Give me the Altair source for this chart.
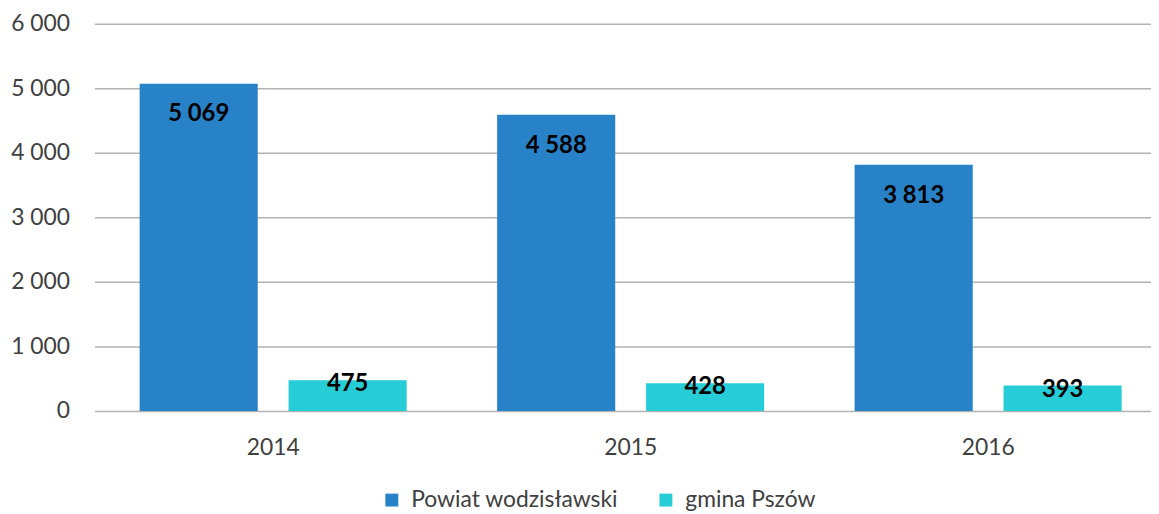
import altair as alt
import pandas as pd

years = ["2014", "2015", "2016"]
series = ["Powiat wodzisławski", "gmina Pszów"]
powiat = [5069, 4588, 3813]
gmina = [475, 428, 393]
colors = ["#2882C8", "#26CDD6"]

rows = []
for i, y in enumerate(years):
    rows.append({"year": y, "series": series[0], "value": powiat[i]})
    rows.append({"year": y, "series": series[1], "value": gmina[i]})
df = pd.DataFrame(rows)

FONT = "Lato"
fmt = "replace(format(datum.value, ',d'), ',', ' ')"

x = alt.X("year:N", sort=years, title=None,
          scale=alt.Scale(paddingInner=0.253, paddingOuter=0.1265),
          axis=alt.Axis(labelAngle=0, ticks=False, domain=False, labelFont=FONT,
                        labelFontSize=23, labelColor="#404040", labelPadding=26))
xo = alt.XOffset("series:N", sort=series,
                 scale=alt.Scale(paddingInner=0.207, paddingOuter=0))
y = alt.Y("value:Q", title=None,
          scale=alt.Scale(domain=[0, 6000], nice=False),
          axis=alt.Axis(values=[0, 1000, 2000, 3000, 4000, 5000, 6000], ticks=False,
                        domain=False, grid=True, gridColor="#B3B3B3", gridWidth=1.5,
                        labelFont=FONT, labelFontSize=23, labelColor="#404040",
                        labelPadding=25, labelExpr=fmt))

base = alt.Chart(df)

bars = base.mark_bar().encode(
    x=x, xOffset=xo, y=y,
    color=alt.Color("series:N", sort=series,
                    scale=alt.Scale(domain=series, range=colors),
                    legend=alt.Legend(title=None, orient="none", direction="horizontal",
                                      legendX=288, legendY=468, symbolType="square",
                                      symbolSize=169, symbolStrokeWidth=0,
                                      labelFont=FONT, labelFontSize=23, labelLimit=0,
                                      labelColor="#404040", columnPadding=36,
                                      labelOffset=8)),
)

lab_text = alt.Text("lab:N")
t1 = base.transform_filter(alt.datum.series == series[0]).transform_calculate(
    lab=fmt).mark_text(baseline="middle", dy=31, font=FONT, fontSize=24,
                       fontWeight="bold", color="#000000").encode(
    x=x, xOffset=xo, y=y, text=lab_text)
t2 = base.transform_filter(alt.datum.series == series[1]).transform_calculate(
    lab=fmt).mark_text(baseline="middle", dy=4, font=FONT, fontSize=24,
                       fontWeight="bold", color="#000000").encode(
    x=x, xOffset=xo, y=y, text=lab_text)

chart = alt.layer(bars, t1, t2).properties(
    width=1080, height=390,
    padding={"left": 87, "top": 14, "right": -16, "bottom": 102},
    autosize="none",
).configure_view(stroke=None)

chart.save("out.html", embed_options={"renderer": "svg", "actions": False})
